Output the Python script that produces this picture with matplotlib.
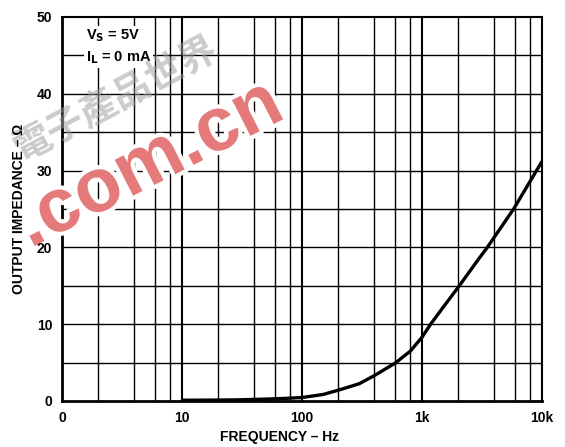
import numpy as np
import matplotlib.pyplot as plt
import matplotlib.patheffects as pe
from matplotlib.patches import Rectangle

# curve (Hz, ohms)
freq = [10, 20, 30, 50, 70, 100, 150, 200, 300, 400, 600, 800, 1000,
        1180, 1500, 2000, 3000, 3500, 5800, 10000]
impedance = [0.1, 0.12, 0.15, 0.25, 0.33, 0.45, 0.85, 1.4, 2.25, 3.3, 4.95, 6.5, 8.3,
             10.0, 12.2, 14.8, 18.6, 20.0, 25.0, 31.2]

x_major = [1, 10, 100, 1000, 10000]
x_major_labels = ['0', '10', '100', '1k', '10k']
x_minor = [m * d for d in [1, 10, 100, 1000] for m in [2, 4, 6, 8]]
y_ticks = [0, 10, 20, 30, 40, 50]
y_grid = [5, 10, 15, 20, 25, 30, 35, 40, 45]

plt.rcParams['font.family'] = ['Liberation Sans', 'DejaVu Sans']
plt.rcParams['font.weight'] = 'bold'

fig = plt.figure(figsize=(5.65, 4.47), dpi=100)
ax = fig.add_axes([62 / 565, 1 - 401 / 447, 480 / 565, 384 / 447])
ax.set_xscale('log')
ax.set_xlim(1, 10000)
ax.set_ylim(0, 50)

# grid
for x in x_minor:
    ax.axvline(x, color='black', lw=1.0, zorder=1)
for x in x_major[1:-1]:
    ax.axvline(x, color='black', lw=1.5, zorder=1)
for y in y_grid:
    ax.axhline(y, color='black', lw=1.0, zorder=1 if y != 45 else 2.5)

# white area behind the condition labels
ax.add_patch(Rectangle((1, 43.6), 4.4, 5.1, facecolor='white', edgecolor='none', zorder=2))

ax.plot(freq, impedance, color='black', lw=2.4, zorder=4, solid_capstyle='butt')

ax.set_xticks(x_major)
ax.set_xticklabels(x_major_labels)
ax.xaxis.set_minor_locator(plt.NullLocator())
ax.set_yticks(y_ticks)
ax.tick_params(axis='both', length=0, labelsize=10)
ax.tick_params(axis='x', pad=7)
ax.tick_params(axis='y', pad=7)
# keep axis labels above the watermark
ax.xaxis.set_zorder(6)
ax.yaxis.set_zorder(6)

for side in ['left', 'bottom']:
    ax.spines[side].set_linewidth(2.0)
for side in ['top', 'right']:
    ax.spines[side].set_linewidth(1.5)

ax.set_xlabel('FREQUENCY – Hz', fontsize=10, fontweight='bold')
ax.xaxis.set_label_coords((280 - 62) / 480, -0.076)
ax.set_ylabel('OUTPUT IMPEDANCE – Ω', fontsize=10, fontweight='bold')
ax.yaxis.set_label_coords(-0.075, 0.5)

box = dict(facecolor='white', edgecolor='none', pad=1)
ax.text(1.58, 47.6, r'V$_\mathbf{S}$ = 5V', fontsize=10.5, fontweight='bold',
        va='center', zorder=3, bbox=box)
ax.text(1.58, 44.7, r'I$_\mathbf{L}$ = 0 mA', fontsize=10.5, fontweight='bold',
        va='center', zorder=3, bbox=box)

# watermark
ax.text(0.205, 0.78, '電子產品世界', fontsize=27, rotation=28, color='#a0a0a0',
        alpha=0.55, ha='center', va='center', family=['Noto Sans CJK TC', 'DejaVu Sans'],
        transform=fig.transFigure, clip_on=False, zorder=5)
ax.text(0.265, 0.63, '.com.cn', fontsize=55, rotation=27, color='#e57a7a',
        fontweight='bold', ha='center', va='center', zorder=5,
        transform=fig.transFigure, clip_on=False,
        path_effects=[pe.withStroke(linewidth=6, foreground='white')])

fig.savefig('out.png', dpi=100)
